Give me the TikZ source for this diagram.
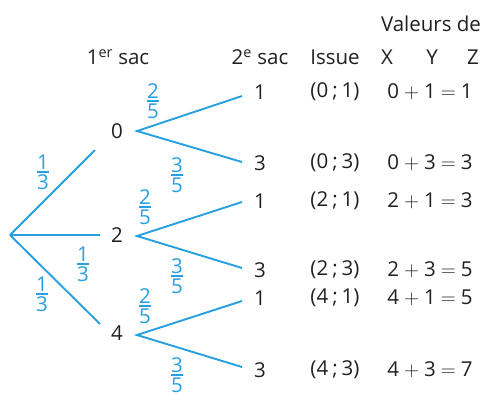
\documentclass[tikz,border=0pt]{standalone}
\usepackage{fontspec}
\setmainfont{Open Sans}
\definecolor{blu}{RGB}{38,160,224}
\definecolor{ink}{RGB}{35,31,32}
\newcommand{\fr}[2]{\vbox{\offinterlineskip
  \hbox to 12pt{\hss#1\hss}\kern1.6pt
  \hbox to 12pt{\hss\rule{12pt}{1.7pt}\hss}\kern1.6pt
  \hbox to 12pt{\hss#2\hss}}}
\newcommand{\eq}[3]{#1\hspace{5pt}$+$\hspace{5pt}#2\hspace{5pt}$=$\hspace{5pt}#3}
\newcommand{\iss}[2]{(#1\hspace{4pt};\hspace{4pt}#2)}
\begin{document}
\begin{tikzpicture}[x=1pt,y=-1pt,
  every node/.style={font=\fontsize{20.5}{24}\selectfont, text=ink, inner sep=0pt},
  br/.style={draw=blu, line width=1.9pt},
  fl/.style={text=blu}]
\useasboundingbox (0,0) rectangle (486,394);
% headers
\node (hv) at (431,24) {Valeurs de};
\node (h1) at (118,57) {1\textsuperscript{er} sac};
\node (h2) at (260,57) {2\textsuperscript{e} sac};
\node (hi) at (335,57) {Issue};
\node (hx) at (387,57) {X};
\node (hy) at (432,57) {Y};
\node (hz) at (473,57) {Z};
% tree nodes
\coordinate (r) at (10,235);
\node (n0) at (117,131) {0};
\node (n2) at (117,235) {2};
\node (n4) at (117,333) {4};
\node (a1) at (260,92) {1};
\node (a3) at (260,163) {3};
\node (b1) at (260,201) {1};
\node (b3) at (260,270) {3};
\node (c1) at (260,298) {1};
\node (c3) at (260,370) {3};
% branches
\draw[br] (r) -- ([shift={(-22,19)}]n0.center);
\draw[br] (r) -- ([shift={(-17,0)}]n2.center);
\draw[br] (r) -- ([shift={(-17,-9)}]n4.center);
\draw[br] ([shift={(-18,4)}]a1.center) -- ([shift={(20,0)}]n0.center) -- ([shift={(-18,-1)}]a3.center);
\draw[br] ([shift={(-18,1)}]b1.center) -- ([shift={(20,1)}]n2.center) -- ([shift={(-18,-2)}]b3.center);
\draw[br] ([shift={(-18,3)}]c1.center) -- ([shift={(20,2)}]n4.center) -- ([shift={(-18,-3)}]c3.center);
% probabilities
\node[fl] (p1) at (43,172) {\fr{1}{3}};
\node[fl] (p2) at (83,264) {\fr{1}{3}};
\node[fl] (p3) at (42,294) {\fr{1}{3}};
\node[fl] (q1) at (153,101) {\fr{2}{5}};
\node[fl] (q2) at (177,175) {\fr{3}{5}};
\node[fl] (q3) at (145,207) {\fr{2}{5}};
\node[fl] (q4) at (177,276) {\fr{3}{5}};
\node[fl] (q5) at (145,306) {\fr{2}{5}};
\node[fl] (q6) at (177,375) {\fr{3}{5}};
% issues
\node (i1) at (335,92) {\iss{0}{1}};
\node (i2) at (335,163) {\iss{0}{3}};
\node (i3) at (335,201) {\iss{2}{1}};
\node (i4) at (335,270) {\iss{2}{3}};
\node (i5) at (335,298) {\iss{4}{1}};
\node (i6) at (335,370) {\iss{4}{3}};
% values
\node (v1) at (430,92) {\eq{0}{1}{1}};
\node (v2) at (430,163) {\eq{0}{3}{3}};
\node (v3) at (430,201) {\eq{2}{1}{3}};
\node (v4) at (430,270) {\eq{2}{3}{5}};
\node (v5) at (430,298) {\eq{4}{1}{5}};
\node (v6) at (430,370) {\eq{4}{3}{7}};
\end{tikzpicture}
\end{document}
